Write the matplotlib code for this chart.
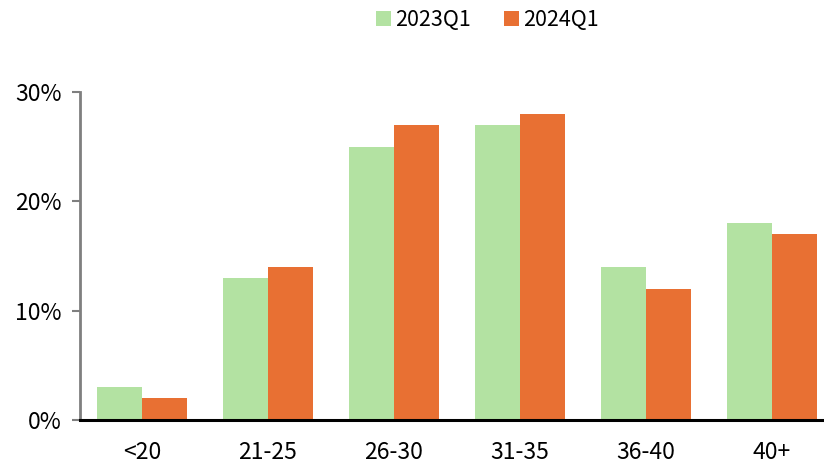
import matplotlib
matplotlib.use("Agg")
import matplotlib.pyplot as plt
import numpy as np

plt.rcParams['font.family'] = ['Noto Sans CJK SC', 'DejaVu Sans']

categories = ["<20", "21-25", "26-30", "31-35", "36-40", "40+"]
series_names = ["2023Q1", "2024Q1"]
values_2023 = [3, 13, 25, 27, 14, 18]
values_2024 = [2, 14, 27, 28, 12, 17]
y_ticks = [0, 10, 20, 30]
y_tick_labels = ["0%", "10%", "20%", "30%"]

green = "#b3e2a2"
orange = "#e87033"

W, H = 824, 463
fig = plt.figure(figsize=(W/100, H/100), dpi=100)
left = 80 / W
bottom = 1 - 420 / H
top = 1 - 92 / H
ax = fig.add_axes([left, bottom, 1 - left, top - bottom])

x = np.arange(len(categories))
bw = 45 / 126
ax.bar(x - bw/2, values_2023, width=bw, color=green, label=series_names[0], zorder=2)
ax.bar(x + bw/2, values_2024, width=bw, color=orange, label=series_names[1], zorder=2)

ax.set_xlim(-0.492, -0.492 + (W - 80) / 126)
ax.set_ylim(0, 30)
ax.set_yticks(y_ticks)
ax.set_yticklabels(y_tick_labels)
ax.set_xticks(x)
ax.set_xticklabels(categories)

for s in ["top", "right"]:
    ax.spines[s].set_visible(False)
ax.spines["left"].set_color("#7f7f7f")
ax.spines["left"].set_linewidth(2)
ax.spines["bottom"].set_color("black")
ax.spines["bottom"].set_linewidth(2.2)
ax.tick_params(axis="y", colors="#7f7f7f", length=6, width=1.5, labelsize=16.5, labelcolor="black", pad=7)
ax.tick_params(axis="x", length=0, labelsize=16.5, labelcolor="black", pad=15)

leg = fig.legend(loc="center", bbox_to_anchor=(0.5915, 1 - 20 / H), ncol=2, frameon=False,
                 fontsize=15.5, handlelength=0.7, handleheight=0.7, handletextpad=0.2,
                 columnspacing=1.55)

fig.savefig("out.png", dpi=100)
